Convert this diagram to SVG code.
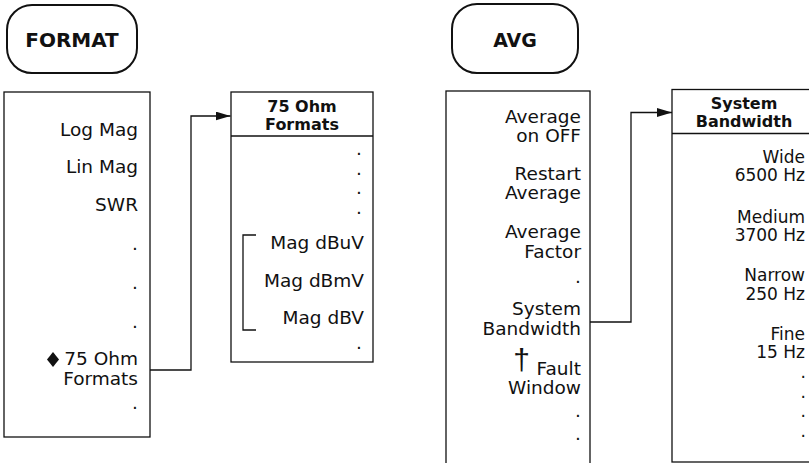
<svg xmlns="http://www.w3.org/2000/svg" width="809" height="463" viewBox="0 0 809 463">
<style>
.btn{fill:#fff;stroke:#111;stroke-width:2}
.box{fill:#fff;stroke:#111;stroke-width:1.3}
.ln{fill:none;stroke:#111;stroke-width:1.3}
.bt{font-family:"DejaVu Sans",sans-serif;font-weight:bold;font-size:20px;fill:#111;text-anchor:middle}
.hd{font-family:"DejaVu Sans",sans-serif;font-weight:bold;font-size:16px;fill:#111;text-anchor:middle}
.it{font-family:"DejaVu Sans",sans-serif;font-size:18.5px;fill:#111;text-anchor:end}
.ir{font-family:"DejaVu Sans",sans-serif;font-size:17px;fill:#111;text-anchor:end}
</style>
<defs>
<marker id="arr" markerUnits="userSpaceOnUse" markerWidth="15" markerHeight="9" refX="15" refY="4.5" orient="auto">
<path d="M0,0 L15,4.5 L0,9 z" fill="#111"/>
</marker>
</defs>
<rect width="809" height="463" fill="#fff"/>

<g id="format-key">
<rect class="btn" x="7" y="5" width="130" height="68" rx="25"/>
<text class="bt" x="72" y="46.5">FORMAT</text>
</g>

<g id="format-menu">
<rect class="box" x="4" y="92" width="146" height="345"/>
<text class="it" x="138" y="135.5">Log Mag</text>
<text class="it" x="138" y="173">Lin Mag</text>
<text class="it" x="138" y="210.5">SWR</text>
<text class="it" x="138" y="249.5">.</text>
<text class="it" x="138" y="288.5">.</text>
<text class="it" x="138" y="327.5">.</text>
<polygon points="53,352 59,359.5 53,367 47,359.5" fill="#111"/>
<text class="it" x="138" y="365">75 Ohm</text>
<text class="it" x="138" y="385">Formats</text>
<text class="it" x="138" y="408.5">.</text>
</g>

<g id="ohm-menu">
<rect class="box" x="231" y="92" width="142" height="270"/>
<line class="ln" x1="231" y1="136" x2="373" y2="136"/>
<text class="hd" x="302" y="111.5">75 Ohm</text>
<text class="hd" x="302" y="130">Formats</text>
<text class="it" x="362" y="154.5">.</text>
<text class="it" x="362" y="174.5">.</text>
<text class="it" x="362" y="193.5">.</text>
<text class="it" x="362" y="213.5">.</text>
<path class="ln" d="M256,235 H243 V330 H256"/>
<text class="it" x="364" y="249">Mag dBuV</text>
<text class="it" x="364" y="286.5">Mag dBmV</text>
<text class="it" x="364" y="324">Mag dBV</text>
<text class="it" x="362" y="348.5">.</text>
</g>

<g id="avg-key">
<rect class="btn" x="452" y="4" width="126" height="69" rx="25"/>
<text class="bt" x="515" y="47" style="font-size:19px">AVG</text>
</g>

<g id="avg-menu">
<rect class="box" x="446" y="91" width="144" height="385"/>
<text class="it" x="581" y="122.5">Average</text>
<text class="it" x="581" y="141.5">on OFF</text>
<text class="it" x="581" y="180">Restart</text>
<text class="it" x="581" y="199">Average</text>
<text class="it" x="581" y="238">Average</text>
<text class="it" x="581" y="258">Factor</text>
<text class="it" x="581" y="282.5">.</text>
<text class="it" x="581" y="315">System</text>
<text class="it" x="581" y="335">Bandwidth</text>
<text class="it" x="530" y="370" style="font-family:'Liberation Sans',sans-serif;font-size:30px">†</text>
<text class="it" x="581" y="375">Fault</text>
<text class="it" x="581" y="394">Window</text>
<text class="it" x="581" y="416.5">.</text>
<text class="it" x="581" y="439.5">.</text>
</g>

<g id="bandwidth-menu">
<rect class="box" x="672" y="89.5" width="150" height="372.5"/>
<line class="ln" x1="672" y1="133.5" x2="809" y2="133.5"/>
<text class="hd" x="744" y="109">System</text>
<text class="hd" x="744" y="127">Bandwidth</text>
<text class="ir" x="805" y="162.5">Wide</text>
<text class="ir" x="805" y="181">6500 Hz</text>
<text class="ir" x="805" y="222.5">Medium</text>
<text class="ir" x="805" y="241">3700 Hz</text>
<text class="ir" x="805" y="280.5">Narrow</text>
<text class="ir" x="805" y="299.5">250 Hz</text>
<text class="ir" x="805" y="339.5">Fine</text>
<text class="ir" x="805" y="358">15 Hz</text>
<text class="ir" x="806" y="378">.</text>
<text class="ir" x="806" y="397.5">.</text>
<text class="ir" x="806" y="416.5">.</text>
<text class="ir" x="806" y="436.5">.</text>
</g>

<g id="connectors">
<path class="ln" d="M150,370 H191 V116 H230.5" marker-end="url(#arr)"/>
<path class="ln" d="M590,322 H631 V112.5 H672" marker-end="url(#arr)"/>
</g>
</svg>
